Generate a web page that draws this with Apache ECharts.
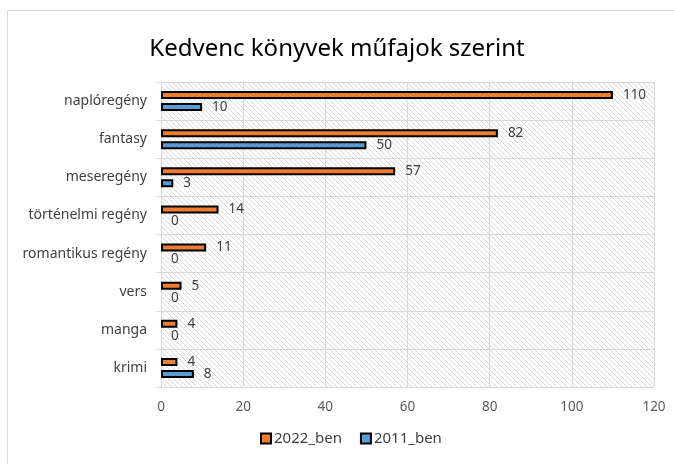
<!DOCTYPE html>
<html>
<head>
<meta charset="utf-8">
<script src="https://cdn.jsdelivr.net/npm/echarts@6/dist/echarts.min.js"></script>
<style>
* { margin: 0; padding: 0; }
body { background: #fff; }
</style>
</head>
<body>
<div id="chart" style="width: 674px;height: 464px;"></div>
<script>
// műfajok, fentről lefelé
const categories = ['naplóregény', 'fantasy', 'meseregény', 'történelmi regény', 'romantikus regény', 'vers', 'manga', 'krimi']
const ben2022 = [110, 82, 57, 14, 11, 5, 4, 4]
const ben2011 = [10, 50, 3, 0, 0, 0, 0, 8]
const xTicks = { min: 0, max: 120, interval: 20 }

// csíkozott háttér
function hatch() {
    const s = 5
    const c = document.createElement('canvas')
    c.width = s
    c.height = s
    const ctx = c.getContext('2d')
    ctx.fillStyle = '#ffffff'
    ctx.fillRect(0, 0, s, s)
    ctx.strokeStyle = '#dadada'
    ctx.lineWidth = 1
    ctx.beginPath()
    for (let k = -s; k <= s; k += s) {
        ctx.moveTo(0, k)
        ctx.lineTo(s, s + k)
    }
    ctx.stroke()
    return c
}

// a 0 értékű oszlopnak ne legyen kerete
function bars(arr) {
    return arr.map(v => v === 0 ? { value: v, itemStyle: { borderWidth: 0 } } : v)
}

const font = 'Noto Sans'
const label = {
    show: true,
    position: 'right',
    distance: 10,
    color: '#404040',
    fontSize: 13.5,
    fontFamily: font
}

const chart = echarts.init(document.getElementById('chart'))
chart.setOption({
    animation: false,
    title: {
        text: 'Kedvenc könyvek műfajok szerint',
        left: 'center',
        top: 32,
        textStyle: { fontFamily: font, fontSize: 24, fontWeight: 'normal', color: '#000' }
    },
    graphic: [{
        type: 'rect',
        shape: { x: 7.5, y: 10.5, width: 700, height: 500 },
        style: { fill: 'none', stroke: '#d9d9d9', lineWidth: 1 },
        silent: true
    }],
    legend: {
        bottom: 13,
        left: 255,
        itemWidth: 10,
        itemHeight: 10,
        itemGap: 18,
        icon: 'rect',
        textStyle: { fontFamily: font, fontSize: 15, color: '#404040', padding: [0, 0, 0, -2] },
        data: ['2022_ben', '2011_ben']
    },
    grid: { left: 161, right: 20, top: 82, bottom: 77 },
    xAxis: {
        type: 'value',
        min: xTicks.min,
        max: xTicks.max,
        interval: xTicks.interval,
        axisLine: { show: false },
        axisTick: { show: false },
        axisLabel: { color: '#595959', fontSize: 13.5, fontFamily: font, margin: 13 },
        splitLine: { lineStyle: { color: '#d9d9d9' } }
    },
    yAxis: {
        type: 'category',
        inverse: true,
        data: categories,
        axisLine: { show: true, lineStyle: { color: '#d9d9d9' } },
        axisTick: { show: true, length: 5, lineStyle: { color: '#d9d9d9' } },
        axisLabel: { color: '#404040', fontSize: 14, fontFamily: font, margin: 14 },
        splitLine: { show: true, lineStyle: { color: '#d9d9d9' } },
        splitArea: { show: true, areaStyle: { color: [{ image: hatch(), repeat: 'repeat' }] } }
    },
    series: [
        {
            name: '2022_ben',
            type: 'bar',
            data: bars(ben2022),
            barWidth: 8,
            barGap: '50%',
            label: label,
            itemStyle: { color: '#ed7d31', borderColor: '#000', borderWidth: 2 }
        },
        {
            name: '2011_ben',
            type: 'bar',
            data: bars(ben2011),
            barWidth: 8,
            label: label,
            itemStyle: { color: '#5b9bd5', borderColor: '#000', borderWidth: 2 }
        }
    ]
})
</script>
</body>
</html>
